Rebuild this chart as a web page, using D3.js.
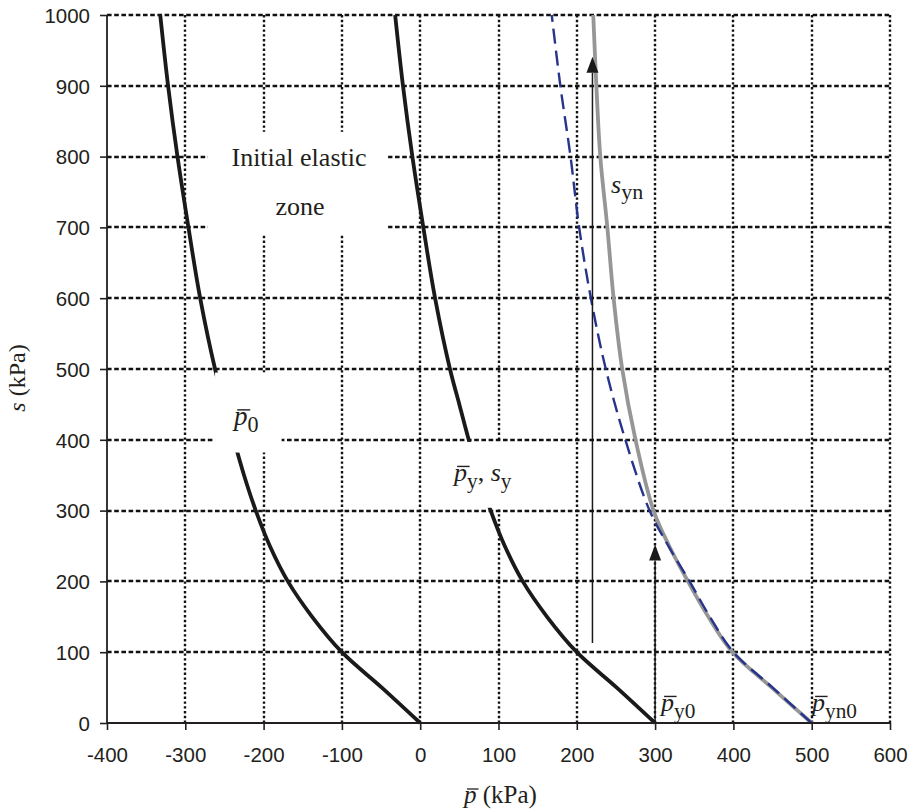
<!DOCTYPE html>
<html>
<head>
<meta charset="utf-8">
<script src="https://cdn.jsdelivr.net/npm/d3@7"></script>
<style>
  body { margin: 0; background: #fff; }
  svg text { fill: #231f20; }
</style>
</head>
<body>
<svg id="chart" width="912" height="810"></svg>
<script>
// s values (kPa) shared by the curves
var sVals = [0, 50, 100, 150, 200, 250, 300, 350, 400, 450, 500, 600, 700, 800, 900, 1000];
// yield curve p_y (kPa) at each s
var pyVals = [300, 251, 200, 162, 131, 108, 90, 75, 62, 50, 38, 19, 4, -10, -22, -32];
// p_0 curve is the same shape shifted left
var p0Vals = [0, -49, -100, -138, -169, -192, -210, -225, -238, -250, -262, -281, -296, -310, -322, -332];

// s_yn (grey solid)
var synS = [0, 50, 100, 150, 200, 250, 300, 400, 500, 600, 700, 800, 900, 1000];
var synP = [500, 449, 399, 368, 342, 318, 298, 275, 258, 247, 239, 230, 225, 221];
// dashed blue curve
var dashS = [0, 50, 100, 150, 200, 250, 300, 400, 500, 600, 700, 800, 900, 1000];
var dashP = [500, 450, 400, 370, 344, 317, 293, 262, 237, 218, 203, 192, 179, 168];

var xTicks = [-400, -300, -200, -100, 0, 100, 200, 300, 400, 500, 600];
var yTicks = [0, 100, 200, 300, 400, 500, 600, 700, 800, 900, 1000];

var svg = d3.select("#chart");
var x = d3.scaleLinear().domain([-400, 600]).range([107, 890]);
var y = d3.scaleLinear().domain([0, 1000]).range([723, 15]);

var serif = "'Liberation Serif', 'Times New Roman', serif";
var sans = "'Liberation Sans', Arial, sans-serif";

// grid: vertical dotted, horizontal dashed
svg.append("g").selectAll("line")
  .data(xTicks.filter(function(d) { return d !== -400; }))
  .enter().append("line")
    .attr("x1", function(d) { return Math.round(x(d)); }).attr("x2", function(d) { return Math.round(x(d)); })
    .attr("y1", y(0)).attr("y2", y(1000))
    .attr("stroke", "#111").attr("stroke-width", 2.4)
    .attr("stroke-dasharray", "2.4,2.4");

svg.append("g").selectAll("line")
  .data(yTicks.filter(function(d) { return d !== 0; }))
  .enter().append("line")
    .attr("x1", x(-400)).attr("x2", x(600))
    .attr("y1", function(d) { return Math.round(y(d)); }).attr("y2", function(d) { return Math.round(y(d)); })
    .attr("stroke", "#111").attr("stroke-width", 2.4)
    .attr("stroke-dasharray", "4.6,2.6");

function zipPts(ss, ps) {
  return ss.map(function(s, i) { return [ps[i], s]; });
}
var line = d3.line()
  .x(function(d) { return x(d[0]); })
  .y(function(d) { return y(d[1]); })
  .curve(d3.curveCatmullRom.alpha(0.5));

svg.append("path").datum(zipPts(sVals, p0Vals)).attr("d", line)
  .attr("fill", "none").attr("stroke", "#1a1a1a").attr("stroke-width", 3.8);
svg.append("path").datum(zipPts(sVals, pyVals)).attr("d", line)
  .attr("fill", "none").attr("stroke", "#1a1a1a").attr("stroke-width", 3.8);
svg.append("path").datum(zipPts(synS, synP)).attr("d", line)
  .attr("fill", "none").attr("stroke", "#969696").attr("stroke-width", 3.8);
svg.append("path").datum(zipPts(dashS, dashP)).attr("d", line)
  .attr("fill", "none").attr("stroke", "#27348b").attr("stroke-width", 2.4)
  .attr("stroke-dasharray", "15,7");

// arrows
function arrow(px, s0, s1) {
  var tipY = y(s1), hw = 6, hh = 16;
  svg.append("line")
    .attr("x1", x(px)).attr("x2", x(px))
    .attr("y1", y(s0)).attr("y2", tipY + hh)
    .attr("stroke", "#1a1a1a").attr("stroke-width", 1.5);
  svg.append("path")
    .attr("d", "M" + x(px) + "," + tipY + "L" + (x(px) + hw) + "," + (tipY + hh) +
      "L" + (x(px) - hw) + "," + (tipY + hh) + "Z")
    .attr("fill", "#1a1a1a");
}
arrow(220, 113, 941);
arrow(300, 0, 252);

// white label boxes (p range, s range)
var boxes = [
  [-271, -41, 690, 835],
  [-262, -177, 382, 495],
  [13, 192, 304, 397]
];
svg.append("g").selectAll("rect").data(boxes).enter().append("rect")
  .attr("x", function(d) { return x(d[0]); })
  .attr("width", function(d) { return x(d[1]) - x(d[0]); })
  .attr("y", function(d) { return y(d[3]); })
  .attr("height", function(d) { return y(d[2]) - y(d[3]); })
  .attr("fill", "#fff");

// plain labels
svg.append("text").attr("x", 299).attr("y", 166).attr("text-anchor", "middle")
  .style("font-family", serif).style("font-size", "26px").text("Initial elastic");
svg.append("text").attr("x", 300).attr("y", 215).attr("text-anchor", "middle")
  .style("font-family", serif).style("font-size", "26px").text("zone");

// p with overline + subscript
function pbar(px, py, sub, size, extra) {
  var t = svg.append("text").attr("x", px).attr("y", py)
    .style("font-family", serif).style("font-size", size + "px");
  t.append("tspan").style("font-style", "italic").text("p");
  t.append("tspan").attr("dy", size * 0.25).style("font-size", (size * 0.82) + "px").text(sub);
  if (extra) {
    t.append("tspan").attr("dy", -size * 0.25).text(", ");
    t.append("tspan").style("font-style", "italic").text("s");
    t.append("tspan").attr("dy", size * 0.25).style("font-size", (size * 0.82) + "px").text(extra);
  }
  var ext = t.node().getExtentOfChar(0);
  var top = py - size * 0.56;
  svg.append("line")
    .attr("x1", ext.x + size * 0.12).attr("x2", ext.x + ext.width + size * 0.1)
    .attr("y1", top).attr("y2", top)
    .attr("stroke", "#231f20").attr("stroke-width", 1.4);
  return t;
}
pbar(234, 425, "0", 27);
pbar(454, 481, "y", 26, "y");
pbar(661, 711, "y0", 26);
pbar(812, 711, "yn0", 26);

var syn = svg.append("text").attr("x", 611).attr("y", 193)
  .style("font-family", serif).style("font-size", "26px");
syn.append("tspan").style("font-style", "italic").text("s");
syn.append("tspan").attr("dy", 6).style("font-size", "22px").text("yn");

// axes
var yAxis = d3.axisLeft(y).tickValues(yTicks).tickSize(7).tickPadding(10)
  .tickFormat(d3.format("d"));
var xAxis = d3.axisBottom(x).tickValues(xTicks).tickSize(7).tickPadding(17)
  .tickFormat(d3.format("d"));

var gy = svg.append("g").attr("transform", "translate(" + x(-400) + ",0)").call(yAxis);
var gx = svg.append("g").attr("transform", "translate(0," + y(0) + ")").call(xAxis);
[gx, gy].forEach(function(g) {
  g.select(".domain").attr("stroke", "#231f20").attr("stroke-width", 1.8)
    .attr("d", g === gx ? "M" + x(-400) + ",0H" + x(600) : "M0," + y(0) + "V" + y(1000));
  g.selectAll(".tick line").attr("stroke", "#231f20").attr("stroke-width", 1.6);
  g.selectAll(".tick text").style("font-family", sans).style("font-size", "20.5px")
    .attr("fill", "#231f20");
});
gx.selectAll(".tick text").text(function(d) { return d < 0 ? "-" + (-d) : d; });
gy.selectAll(".tick text").attr("dy", "0.36em");

// axis titles
var yt = svg.append("text").attr("transform", "translate(25,378) rotate(-90)")
  .attr("text-anchor", "middle").style("font-family", serif).style("font-size", "24px");
yt.append("tspan").style("font-style", "italic").text("s");
yt.append("tspan").text(" (kPa)");

var xt = svg.append("text").attr("x", 464).attr("y", 803)
  .style("font-family", serif).style("font-size", "25px");
xt.append("tspan").style("font-style", "italic").text("p");
xt.append("tspan").text(" (kPa)");
var e = xt.node().getExtentOfChar(0);
svg.append("line").attr("x1", e.x + 3).attr("x2", e.x + e.width + 2)
  .attr("y1", 803 - 14).attr("y2", 803 - 14)
  .attr("stroke", "#231f20").attr("stroke-width", 1.3);
</script>
</body>
</html>
